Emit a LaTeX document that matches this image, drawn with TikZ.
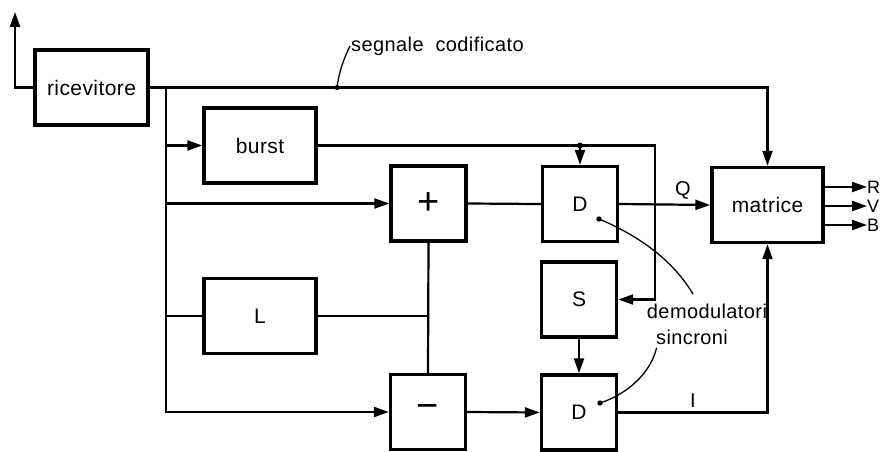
\documentclass[tikz,border=0pt]{standalone}
\usepackage{fontspec}
\setmainfont{Liberation Sans}[LetterSpace=2]
\usepackage{tikz}
\usetikzlibrary{arrows.meta}

\begin{document}
\begin{tikzpicture}[x=1pt,y=-1pt,
  blk/.style={draw,line width=3.4pt,minimum width=#1,minimum height=75pt,inner sep=0pt,font=\fontsize{21}{23}\selectfont},
  blk/.default=75pt,
  sym/.style={font=\fontsize{38}{38}\selectfont},
  wire/.style={line width=2.2pt},
  arr/.style={wire,-{Triangle[length=15pt,width=10pt]}},
  lead/.style={line width=1.3pt},
  lbl/.style={font=\fontsize{20}{23}\selectfont}]
  \useasboundingbox (0,0) rectangle (895,452);
  \node[blk=113pt] (ric) at (91.5,87.5) {ricevitore};
  \node[blk=112pt] (burst) at (260,145.5) {burst};
  \node[blk=112pt] (L) at (260,316) {L};
  \node[blk,sym] (plus) at (428.5,203.5) {+};
  \node[blk,sym] (minus) at (428,412) {−};
  \node[blk] (dq) at (580,204) {D};
  \node[blk] (S) at (579,299.5) {S};
  \node[blk] (di) at (579,412.5) {D};
  \node[blk=111pt] (mat) at (767.5,205) {matrice};
  \coordinate (ant) at (15,12);
  \coordinate (jt) at (166,87.5);
  \coordinate (bk) at (655,145.5);
  \coordinate (tap) at (dq.north |- bk);
  \draw[arr] (ric.west) -| (ant);
  \draw[arr] (ric.east) -| (mat.north);
  \draw[arr] (jt) |- (minus.west);
  \draw[arr] (jt |- burst.west) -- (burst.west);
  \draw[arr] (jt |- plus.west) -- (plus.west);
  \draw[wire] (jt |- L.west) -- (L.west);
  \draw[arr] (burst.east) -- (bk) |- (S.east);
  \fill (tap) circle (3pt);
  \draw[arr] (tap) -- (dq.north);
  \draw[wire] (plus.east) -- (dq.west);
  \draw[arr] (dq.east) -- (mat.west) node[lbl,pos=0.7,above=1pt] {Q};
  \foreach \y/\c in {187/R,206/V,225/B} {
    \node[lbl,anchor=west,inner sep=0pt,font=\fontsize{18}{18}\selectfont] (out\c) at (867,\y) {\c};
    \draw[arr] (mat.east |- out\c) -- (out\c.west);
  }
  \draw[wire] (plus.south) -- (minus.north);
  \draw[wire] (L.east) -- (plus.south |- L.east);
  \draw[arr] (minus.east) -- (di.west);
  \draw[arr] (S.south) -- (di.north);
  \draw[arr] (di.east) -| (mat.south) node[lbl,pos=0.25,above=1pt] {I};
  \node[lbl,anchor=west,inner sep=1pt] (seg) at (350,46) {segnale\ \ codificato};
  \coordinate (segp) at (337,87.5);
  \fill (segp) circle (2.5pt);
  \draw[lead] (segp) .. controls (339,72) and (344,58) .. (seg.west);
  \node[lbl] (dem) at (707,311) {demodulatori};
  \node[lbl] (sinc) at (692,337) {sincroni};
  \coordinate (dqp) at (599,219);
  \coordinate (dip) at (600,403);
  \fill (dqp) circle (2.7pt) (dip) circle (2.7pt);
  \draw[lead] (dqp) .. controls (630,232) and (670,255) .. ([xshift=-14pt,yshift=6pt]dem.north);
  \draw[lead] (dip) .. controls (625,395) and (650,375) .. ([xshift=4pt]sinc.south west);
\end{tikzpicture}
\end{document}
